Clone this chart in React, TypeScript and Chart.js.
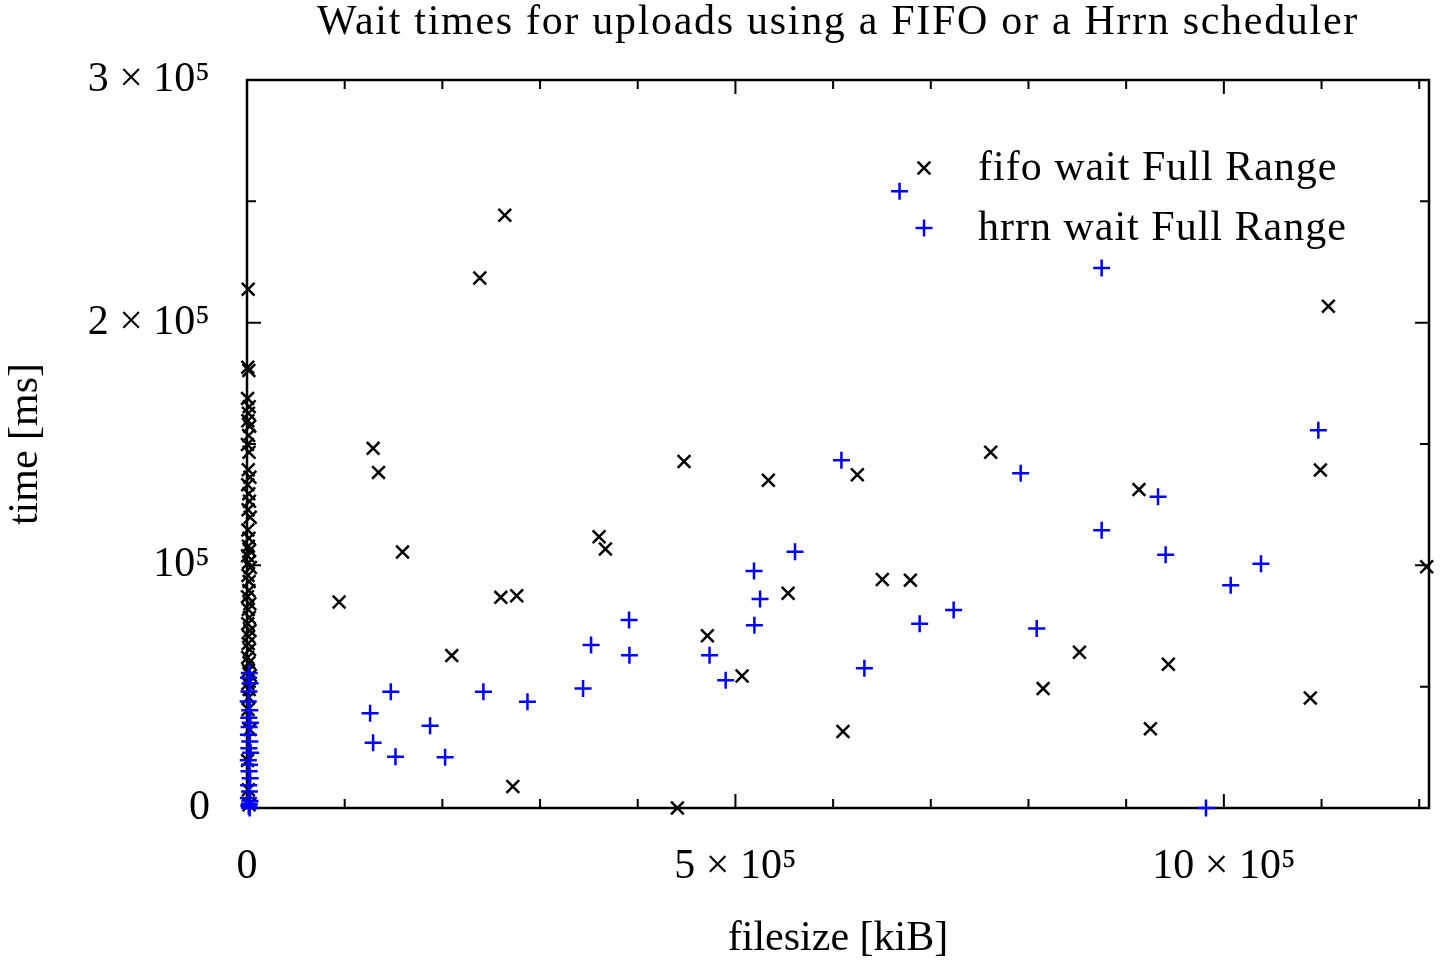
import { useEffect, useRef } from 'react';
import {
  Chart,
  ScatterController,
  PointElement,
  LineElement,
  LinearScale
} from 'chart.js';

Chart.register(ScatterController, PointElement, LineElement, LinearScale);

// fifo scheduler: file size [kiB] / wait [ms]
const fifoSize = [
  94300, 129100, 134600, 159200, 209600, 238300, 259800, 263900, 272100, 276100,
  360400, 366900, 440600, 447400, 471300, 506800, 533700, 553900, 610100, 624800,
  650400, 679100, 761300, 815000, 852200, 913100, 924800, 943200, 1088500, 1098800,
  1107000, 1207600,
  // small uploads, all close to 0 kiB
  1200, 800, 1900, 600, 2300, 1500, 900, 2800, 1700, 400,
  2100, 1300, 3000, 700, 1800, 2500, 1100, 3300, 900, 2000,
  1400, 2700, 600, 1600, 3500, 1000, 2200, 1900, 500, 2900,
  1300, 2400, 800, 3100, 1700, 1200, 2600, 700, 2000, 1500,
  3400, 900, 2300, 1800, 1100, 2800, 600, 1400, 2100
];
const fifoWait = [
  84900, 148200, 138300, 105500, 62800, 218400, 86800, 244300, 8900, 87500,
  111800, 106700, 0, 142800, 71000, 54400, 135100, 88500, 31500, 137300,
  94200, 93900, 146600, 49200, 64200, 131200, 32700, 59200, 45300, 139300,
  206800, 99400,
  213800, 181600, 180300, 168800, 165400, 162700, 159600, 157300, 153500, 149800,
  146600, 139400, 136300, 133200, 129500, 126400, 122900, 119800, 114600, 111200,
  107900, 106100, 103900, 101200, 99100, 95800, 93300, 89600, 87100, 84200,
  81800, 78500, 75900, 73100, 70700, 67800, 65300, 62000, 59900, 56700,
  54600, 51300, 48800, 45500, 40600, 32300, 19600, 7500, 1300
];

// hrrn scheduler: file size [kiB] / wait [ms]
const hrrnSize = [
  126000, 129100, 147200, 152000, 187400, 202800, 242000, 287100, 344000, 352200,
  391100, 391500, 473500, 490000, 519000, 519400, 525200, 561000, 608500, 632000,
  668000, 688600, 723400, 792000, 808400, 874900, 874900, 932600, 940400, 981700,
  1007000, 1038000, 1096700,
  // small uploads
  2400, 1600, 3100, 2000, 1200, 2800, 1800, 3400, 2200, 1500,
  2900, 1900, 3700, 1300, 2600, 2100, 3200, 1700, 2500, 1400,
  3000, 2300, 1800, 2700
];
const hrrnWait = [
  39000, 26900, 47900, 21100, 33900, 20900, 47900, 43800, 49200, 67200,
  77500, 62900, 62900, 52600, 97700, 75300, 86100, 105600, 143300, 57600,
  254200, 75900, 81600, 137900, 74000, 114500, 222500, 128300, 104400, 0,
  91800, 100700, 155700,
  55600, 53700, 51400, 48000, 43900, 40300, 37200, 35100, 33400, 30200,
  27400, 24600, 22800, 19700, 17800, 15100, 12300, 9400, 6800, 4100,
  2900, 1800, 800, 0
];

const seriesLabels = ['fifo wait Full Range', 'hrrn wait Full Range'];
const chartTitle = 'Wait times for uploads using a FIFO or a Hrrn scheduler';
const xTitle = 'filesize [kiB]';
const yTitle = 'time [ms]';

const xTickValues = [0, 500000, 1000000];
const xTickLabels = ['0', '5 × 10⁵', '10 × 10⁵'];
const yTickValues = [0, 100000, 200000, 300000];
const yTickLabels = ['0', '10⁵', '2 × 10⁵', '3 × 10⁵'];
const xStep = 100000;
const yStep = 50000;
const xMax = 1210000;
const yMax = 300000;

const FONT = "'Liberation Serif', 'Times New Roman', serif";

const toPoints = (xs: number[], ys: number[]) => xs.map((x, i) => ({ x, y: ys[i] }));

// gnuplot-like frame with inward ticks on all four sides
const frameTicks = {
  id: 'frameTicks',
  beforeDatasetsDraw(chart: any) {
    const { ctx, chartArea: a, scales } = chart;
    ctx.save();
    ctx.strokeStyle = '#000';
    ctx.lineWidth = 2;
    ctx.beginPath();
    scales.x.ticks.forEach((t: any) => {
      const px = scales.x.getPixelForValue(t.value);
      const len = xTickValues.includes(t.value) ? 14 : 9;
      ctx.moveTo(px, a.bottom);
      ctx.lineTo(px, a.bottom - len);
      ctx.moveTo(px, a.top);
      ctx.lineTo(px, a.top + len);
    });
    scales.y.ticks.forEach((t: any) => {
      const py = scales.y.getPixelForValue(t.value);
      const len = yTickValues.includes(t.value) ? 14 : 9;
      ctx.moveTo(a.left, py);
      ctx.lineTo(a.left + len, py);
      ctx.moveTo(a.right, py);
      ctx.lineTo(a.right - len, py);
    });
    ctx.stroke();
    ctx.lineWidth = 2.5;
    ctx.strokeRect(a.left, a.top, a.right - a.left, a.bottom - a.top);
    ctx.restore();
  }
};

const titleAndKey = {
  id: 'titleAndKey',
  afterDraw(chart: any) {
    const { ctx, chartArea: a } = chart;
    ctx.save();
    ctx.fillStyle = '#000';
    ctx.font = `42px ${FONT}`;
    ctx.textAlign = 'center';
    ctx.textBaseline = 'alphabetic';
    ctx.letterSpacing = '1.7px';
    ctx.fillText(chartTitle, (a.left + a.right) / 2, 34);

    // key, top right inside the plot
    const keyX = 924;
    const textX = 978;
    ctx.letterSpacing = '1px';
    chart.data.datasets.forEach((ds: any, i: number) => {
      const cy = 168 + i * 60;
      const r = ds.pointRadius;
      ctx.strokeStyle = ds.pointBorderColor;
      ctx.lineWidth = ds.pointBorderWidth;
      ctx.beginPath();
      if (ds.pointStyle === 'crossRot') {
        const d = r * Math.SQRT1_2;
        ctx.moveTo(keyX - d, cy - d);
        ctx.lineTo(keyX + d, cy + d);
        ctx.moveTo(keyX - d, cy + d);
        ctx.lineTo(keyX + d, cy - d);
      } else {
        ctx.moveTo(keyX - r, cy);
        ctx.lineTo(keyX + r, cy);
        ctx.moveTo(keyX, cy - r);
        ctx.lineTo(keyX, cy + r);
      }
      ctx.stroke();
      ctx.textAlign = 'left';
      ctx.fillText(ds.label, textX, cy + 12);
    });
    ctx.restore();
  }
};

export default function App() {
  const canvasRef = useRef<HTMLCanvasElement>(null);

  useEffect(() => {
    if (!canvasRef.current) return;
    const chart = new Chart(canvasRef.current, {
      type: 'scatter',
      data: {
        datasets: [
          {
            label: seriesLabels[0],
            data: toPoints(fifoSize, fifoWait),
            pointStyle: 'crossRot',
            pointRadius: 9,
            pointBorderWidth: 2.5,
            pointBorderColor: '#000000',
            borderColor: '#000000',
            backgroundColor: '#000000',
            clip: false,
            order: 2
          },
          {
            label: seriesLabels[1],
            data: toPoints(hrrnSize, hrrnWait),
            pointStyle: 'cross',
            pointRadius: 8.5,
            pointBorderWidth: 2.5,
            pointBorderColor: '#0000ff',
            borderColor: '#0000ff',
            backgroundColor: '#0000ff',
            clip: false,
            order: 1
          }
        ]
      },
      options: {
        animation: false,
        responsive: true,
        maintainAspectRatio: false,
        events: [],
        layout: {
          autoPadding: false,
          padding: { top: 80, right: 13, left: 0, bottom: 0 }
        },
        plugins: {
          legend: { display: false },
          title: { display: false },
          tooltip: { enabled: false }
        },
        scales: {
          x: {
            type: 'linear',
            min: 0,
            max: xMax,
            grid: { display: false, drawTicks: false },
            border: { display: false },
            afterBuildTicks: (scale: any) => {
              const ticks = [];
              for (let v = 0; v <= xMax; v += xStep) ticks.push({ value: v });
              scale.ticks = ticks;
            },
            afterFit: (scale: any) => {
              scale.height = 155;
              scale.paddingLeft = 0;
              scale.paddingRight = 0;
            },
            ticks: {
              autoSkip: false,
              maxRotation: 0,
              padding: 34,
              color: '#000',
              font: { family: FONT, size: 42 },
              callback: (v: any) => {
                const i = xTickValues.indexOf(Number(v));
                return i >= 0 ? xTickLabels[i] : '';
              }
            },
            title: {
              display: true,
              text: xTitle,
              color: '#000',
              font: { family: FONT, size: 42, lineHeight: 1.1 },
              padding: { top: 0, bottom: 1 }
            }
          },
          y: {
            type: 'linear',
            min: 0,
            max: yMax,
            grid: { display: false, drawTicks: false },
            border: { display: false },
            afterBuildTicks: (scale: any) => {
              const ticks = [];
              for (let v = 0; v <= yMax; v += yStep) ticks.push({ value: v });
              scale.ticks = ticks;
            },
            afterFit: (scale: any) => {
              scale.width = 247;
              scale.paddingTop = 0;
              scale.paddingBottom = 0;
            },
            ticks: {
              autoSkip: false,
              padding: 37,
              color: '#000',
              font: { family: FONT, size: 42 },
              callback: (v: any) => {
                const i = yTickValues.indexOf(Number(v));
                return i >= 0 ? yTickLabels[i] : '';
              }
            },
            title: {
              display: true,
              text: yTitle,
              color: '#000',
              font: { family: FONT, size: 42, lineHeight: 1.1 },
              padding: { top: 3, bottom: 0 }
            }
          }
        }
      },
      plugins: [frameTicks, titleAndKey]
    });

    return () => {
      chart.destroy();
    };
  }, []);

  return (
    <div style={{ position: 'fixed', left: 0, top: 0, width: '1442px', height: '963px', background: '#fff' }}>
      <canvas ref={canvasRef} />
    </div>
  );
}
